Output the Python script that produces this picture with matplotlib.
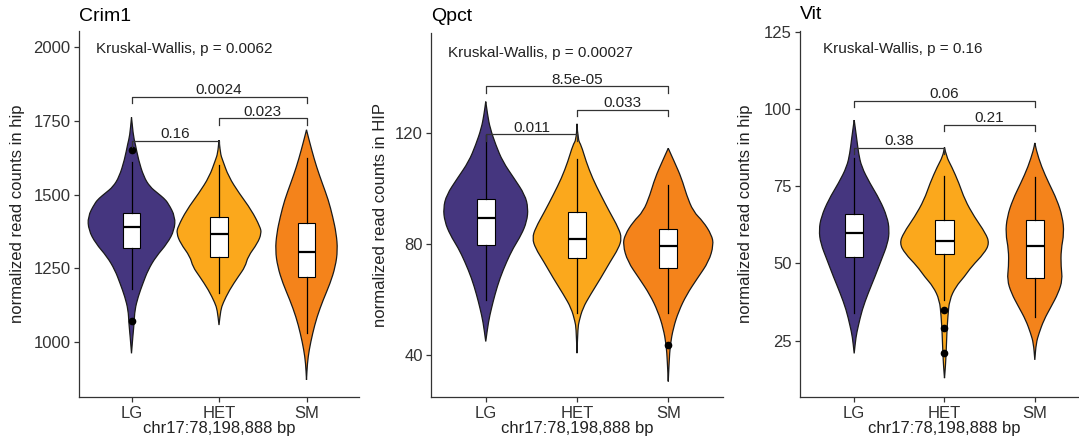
import numpy as np
import matplotlib
matplotlib.use("Agg")
import matplotlib.pyplot as plt
from matplotlib.path import Path
from matplotlib.patches import PathPatch

plt.rcParams["font.family"] = ["Liberation Sans", "DejaVu Sans"]

W, H = 1079, 444
GROUPS = ["LG", "HET", "SM"]
COLORS = ["#45367f", "#fba81c", "#f4831b"]
XLABEL = "chr17:78,198,888 bp"

# ---- Crim1 ----
crim1_violin_y = {
    "LG": [1762, 1700, 1674, 1618, 1561, 1527, 1505, 1488, 1471, 1425, 1380, 1335, 1290, 1245, 1199, 1154, 1109, 1064, 1018, 962],
    "HET": [1685, 1640, 1618, 1561, 1505, 1448, 1391, 1369, 1335, 1290, 1256, 1222, 1177, 1132, 1109, 1058],
    "SM": [1720, 1708, 1651, 1595, 1539, 1482, 1425, 1369, 1312, 1256, 1199, 1143, 1086, 1030, 973, 928, 872],
}
crim1_violin_w = {
    "LG": [0, 0.02, 0.042, 0.08, 0.14, 0.21, 0.30, 0.37, 0.42, 0.50, 0.49, 0.41, 0.28, 0.19, 0.13, 0.076, 0.038, 0.03, 0.015, 0],
    "HET": [0, 0.015, 0.04, 0.11, 0.23, 0.37, 0.47, 0.485, 0.44, 0.33, 0.30, 0.22, 0.12, 0.045, 0.02, 0],
    "SM": [0, 0.01, 0.06, 0.114, 0.18, 0.25, 0.30, 0.34, 0.356, 0.33, 0.27, 0.19, 0.12, 0.07, 0.03, 0.01, 0],
}
# whislo, q1, median, q3, whishi
crim1_box = {"LG": [1180, 1320, 1389, 1439, 1612], "HET": [1166, 1290, 1367, 1423, 1601], "SM": [1030, 1222, 1307, 1403, 1623]}
crim1_outliers = {"LG": [1651, 1072], "HET": [], "SM": []}
crim1_pairs = [(1, 2, 1683, "0.16"), (2, 3, 1759, "0.023"), (1, 3, 1832, "0.0024")]
crim1_kw = "Kruskal-Wallis, p = 0.0062"

# ---- Qpct ----
qpct_violin_y = {
    "LG": [131.2, 126.4, 121.6, 115.6, 109.6, 103.6, 97.6, 92.8, 88.0, 83.2, 78.4, 73.6, 67.6, 61.6, 56.8, 52.0, 44.8],
    "HET": [123.2, 117.4, 115.6, 109.6, 103.6, 97.6, 91.6, 85.6, 82.0, 78.4, 73.6, 67.6, 61.6, 56.8, 52.0, 49.6, 40.6],
    "SM": [114.4, 109.6, 103.6, 97.6, 91.6, 88.0, 83.2, 79.6, 73.6, 67.6, 61.6, 55.6, 49.6, 43.6, 37.6, 30.4],
}
qpct_violin_w = {
    "LG": [0, 0.02, 0.048, 0.11, 0.186, 0.31, 0.43, 0.465, 0.45, 0.39, 0.30, 0.23, 0.155, 0.10, 0.063, 0.03, 0],
    "HET": [0, 0.01, 0.045, 0.10, 0.17, 0.26, 0.355, 0.456, 0.49, 0.456, 0.365, 0.26, 0.146, 0.063, 0.022, 0.01, 0],
    "SM": [0, 0.066, 0.146, 0.2, 0.274, 0.383, 0.475, 0.497, 0.445, 0.32, 0.2, 0.113, 0.055, 0.022, 0.01, 0],
}
qpct_box = {"LG": [59.8, 79.6, 89.2, 96.1, 119.2], "HET": [55.1, 75.0, 81.7, 91.3, 110.5], "SM": [55.1, 71.1, 79.2, 85.2, 101.2]}
qpct_outliers = {"LG": [], "HET": [], "SM": [43.6]}
qpct_pairs = [(1, 2, 119.4, "0.011"), (2, 3, 128.2, "0.033"), (1, 3, 136.8, "8.5e-05")]
qpct_kw = "Kruskal-Wallis, p = 0.00027"

# ---- Vit ----
vit_violin_y = {
    "LG": [96.4, 90.0, 85.7, 81.3, 76.0, 70.6, 65.1, 60.8, 56.5, 51.1, 45.7, 40.4, 35.0, 29.6, 26.3, 20.9],
    "HET": [87.6, 84.6, 81.3, 76.0, 70.6, 65.1, 59.8, 56.5, 53.3, 49.0, 45.7, 42.5, 38.2, 32.8, 27.4, 20.9, 16.6, 12.9],
    "SM": [89.0, 86.7, 81.3, 76.0, 70.6, 65.1, 59.8, 54.4, 49.0, 44.7, 40.4, 36.0, 31.7, 27.4, 24.2, 18.8],
}
vit_violin_w = {
    "LG": [0, 0.03, 0.048, 0.081, 0.173, 0.284, 0.365, 0.39, 0.372, 0.30, 0.23, 0.155, 0.088, 0.044, 0.02, 0],
    "HET": [0, 0.02, 0.08, 0.16, 0.225, 0.33, 0.455, 0.497, 0.44, 0.30, 0.22, 0.125, 0.055, 0.037, 0.026, 0.018, 0.01, 0],
    "SM": [0, 0.015, 0.074, 0.155, 0.245, 0.306, 0.324, 0.29, 0.29, 0.306, 0.26, 0.18, 0.10, 0.046, 0.015, 0],
}
vit_box = {"LG": [33.9, 52.2, 59.8, 66.0, 84.0], "HET": [38.2, 53.0, 57.3, 63.9, 78.3], "SM": [32.8, 45.2, 55.8, 63.9, 78.1]}
vit_outliers = {"LG": [], "HET": [35.0, 29.0, 20.9], "SM": []}
vit_pairs = [(1, 2, 87.5, "0.38"), (2, 3, 94.9, "0.21"), (1, 3, 102.7, "0.06")]
vit_kw = "Kruskal-Wallis, p = 0.16"


def violin_path(x0, y, w):
    # outline: down the right side, back up the left side; read points used as
    # quadratic bezier control points so the outline is drawn smooth.
    # bottom tip is kept twice so the curve really passes through it
    right = list(zip(x0 + w, y))
    left = list(zip(x0 - w, y))[::-1]
    pts = np.array(right + left)
    verts = [pts[0]]
    codes = [Path.MOVETO]
    for i in range(1, len(pts) - 1):
        mid = (pts[i] + pts[i + 1]) / 2
        verts += [pts[i], mid]
        codes += [Path.CURVE3, Path.CURVE3]
    verts.append(pts[-1])
    codes.append(Path.LINETO)
    return Path(verts, codes)


def draw_panel(fig, px_box, title, title_base, ylabel, vy, vw, box, outl, pairs,
               kw, kw_xy, ylim, yticks, labelpad):
    left, top, right, bottom = px_box
    ax = fig.add_axes([left / W, 1 - bottom / H, (right - left) / W, (bottom - top) / H])

    for i, g in enumerate(GROUPS):
        p = violin_path(i + 1, np.array(vy[g], float), np.array(vw[g], float))
        ax.add_patch(PathPatch(p, facecolor=COLORS[i], edgecolor="#1a1a1a", lw=0.9, zorder=1))

    stats = []
    for g in GROUPS:
        lo, q1, med, q3, hi = box[g]
        stats.append(dict(whislo=lo, q1=q1, med=med, q3=q3, whishi=hi, fliers=outl[g]))
    ax.bxp(stats, positions=[1, 2, 3], widths=0.2, patch_artist=True, showcaps=False,
           boxprops=dict(facecolor="white", edgecolor="black", lw=0.8),
           medianprops=dict(color="black", lw=1.6),
           whiskerprops=dict(color="black", lw=0.9),
           flierprops=dict(marker="o", markerfacecolor="black", markeredgecolor="black", markersize=4.5),
           zorder=2)

    tip = (ylim[1] - ylim[0]) * 6.5 / (bottom - top)
    for x1, x2, yb, lab in pairs:
        ax.plot([x1, x1, x2, x2], [yb - tip, yb, yb, yb - tip], color="#333333", lw=0.9, zorder=3)
        ax.annotate(lab, xy=((x1 + x2) / 2, yb), xytext=(0, 1.8), textcoords="offset points",
                    ha="center", va="baseline", fontsize=11, color="#222222")

    ax.text(kw_xy[0], kw_xy[1], kw, ha="left", va="baseline", fontsize=11, color="#222222")

    ax.set_xlim(0.4, 3.6)
    ax.set_ylim(*ylim)
    ax.set_xticks([1, 2, 3])
    ax.set_xticklabels(GROUPS)
    ax.set_yticks(yticks)
    for s in ["top", "right"]:
        ax.spines[s].set_visible(False)
    for s in ["left", "bottom"]:
        ax.spines[s].set_color("#333333")
        ax.spines[s].set_linewidth(0.9)
    ax.tick_params(direction="out", length=3.5, width=0.9, colors="#333333",
                   labelsize=12, pad=2.5)
    ax.set_ylabel(ylabel, fontsize=12, color="#222222", labelpad=labelpad)
    ax.set_xlabel(XLABEL, fontsize=12, color="#222222", labelpad=0)
    fig.text(left / W, 1 - title_base / H, title, fontsize=14, ha="left", va="baseline")
    return ax


fig = plt.figure(figsize=(W / 100, H / 100), dpi=100)

draw_panel(fig, (79, 30.7, 359, 397.3), "Crim1", 20.7, "normalized read counts in hip",
           crim1_violin_y, crim1_violin_w, crim1_box, crim1_outliers, crim1_pairs,
           crim1_kw, (0.6, 1980), (813, 2056), [1000, 1250, 1500, 1750, 2000], 6)
draw_panel(fig, (431, 33.3, 723, 397.3), "Qpct", 20.7, "normalized read counts in HIP",
           qpct_violin_y, qpct_violin_w, qpct_box, qpct_outliers, qpct_pairs,
           qpct_kw, (0.59, 147.4), (24.7, 155.8), [40, 80, 120], 5)
draw_panel(fig, (800, 30.7, 1089, 397.3), "Vit", 19.3, "normalized read counts in hip",
           vit_violin_y, vit_violin_w, vit_box, vit_outliers, vit_pairs,
           vit_kw, (0.65, 118.0), (6.7, 125.3), [25, 50, 75, 100, 125], 8)

fig.savefig("out.png", dpi=100)
